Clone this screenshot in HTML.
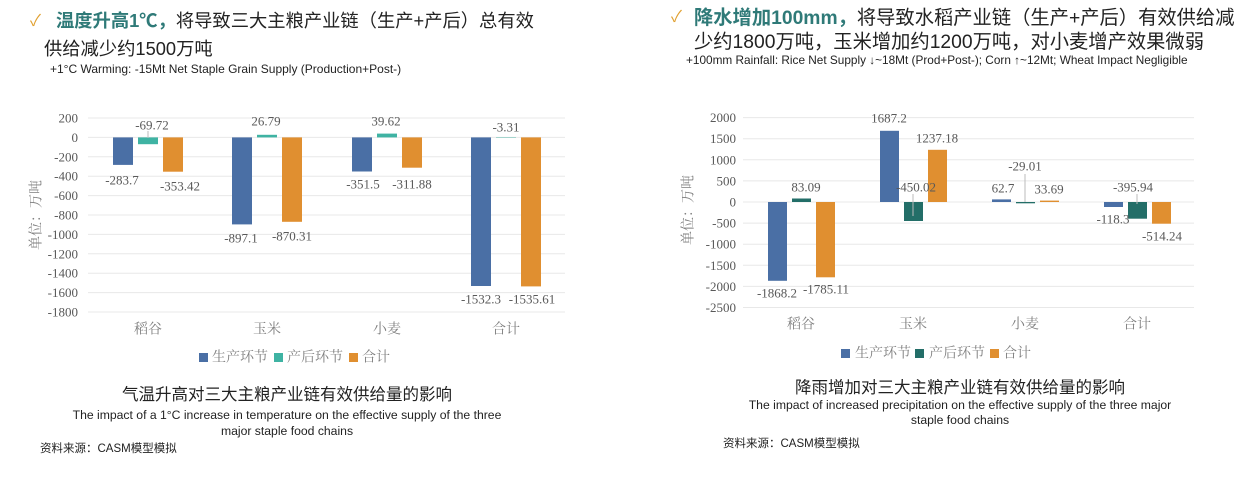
<!DOCTYPE html>
<html><head><meta charset="utf-8"><style>
body{margin:0;background:#fff;width:1250px;height:479px;overflow:hidden}
svg{display:block}
.h{font-family:"Liberation Sans","Noto Sans CJK SC",sans-serif;fill:#222}
.t{font-family:"Liberation Serif","Noto Serif CJK SC",serif;fill:#595959;font-size:13px}
.c{font-family:"Liberation Serif","Noto Serif CJK SC",serif;fill:#7f7f7f;font-size:14px}
.g{stroke:#e8e8e8;stroke-width:1}
</style></head><body>
<svg width="1250" height="479" viewBox="0 0 1250 479">
<!-- LEFT HEADER -->
<text x="30" y="26" font-size="16" class="h" style="fill:#e0a030">✓</text>
<text x="56" y="27" font-size="18.3" class="h"><tspan style="fill:#2f7a78;font-weight:bold">温度升高1℃，</tspan>将导致三大主粮产业链（生产+产后）总有效</text>
<text x="44" y="55" font-size="18.3" class="h">供给减少约1500万吨</text>
<text x="50" y="73" font-size="12" class="h">+1°C Warming: -15Mt Net Staple Grain Supply (Production+Post-)</text>
<!-- RIGHT HEADER -->
<text x="671" y="22" font-size="16" class="h" style="fill:#e0a030">✓</text>
<text x="694" y="24" font-size="19.3" class="h"><tspan style="fill:#2f7a78;font-weight:bold">降水增加100mm，</tspan>将导致水稻产业链（生产+产后）有效供给减</text>
<text x="694" y="48" font-size="19.3" class="h">少约1800万吨，玉米增加约1200万吨，对小麦增产效果微弱</text>
<text x="686" y="64" font-size="11.8" class="h">+100mm Rainfall: Rice Net Supply ↓~18Mt (Prod+Post-); Corn ↑~12Mt; Wheat Impact Negligible</text>

<g>
<line class="g" x1="88" x2="565" y1="118" y2="118"/><line class="g" x1="88" x2="565" y1="137.4" y2="137.4"/>
<line class="g" x1="88" x2="565" y1="156.8" y2="156.8"/><line class="g" x1="88" x2="565" y1="176.2" y2="176.2"/>
<line class="g" x1="88" x2="565" y1="195.6" y2="195.6"/><line class="g" x1="88" x2="565" y1="215" y2="215"/>
<line class="g" x1="88" x2="565" y1="234.4" y2="234.4"/><line class="g" x1="88" x2="565" y1="253.8" y2="253.8"/>
<line class="g" x1="88" x2="565" y1="273.2" y2="273.2"/><line class="g" x1="88" x2="565" y1="292.6" y2="292.6"/>
<line class="g" x1="88" x2="565" y1="312" y2="312"/>
</g>
<g class="t" text-anchor="end" dominant-baseline="central">
<text x="78" y="118">200</text><text x="78" y="137.4">0</text><text x="78" y="156.8">-200</text><text x="78" y="176.2">-400</text>
<text x="78" y="195.6">-600</text><text x="78" y="215">-800</text><text x="78" y="234.4">-1000</text><text x="78" y="253.8">-1200</text>
<text x="78" y="273.2">-1400</text><text x="78" y="292.6">-1600</text><text x="78" y="312">-1800</text>
</g>
<text class="c" transform="translate(37,215) rotate(-90)" text-anchor="middle" dominant-baseline="central">单位：万吨</text>
<g>
<rect x="113" y="137.4" width="20" height="27.5" fill="#4a6fa5"/>
<rect x="138" y="137.4" width="20" height="6.8" fill="#3fb3a3"/>
<rect x="163" y="137.4" width="20" height="34.3" fill="#e08f30"/>
<rect x="232" y="137.4" width="20" height="87" fill="#4a6fa5"/>
<rect x="257" y="134.8" width="20" height="2.6" fill="#3fb3a3"/>
<rect x="282" y="137.4" width="20" height="84.4" fill="#e08f30"/>
<rect x="352" y="137.4" width="20" height="34.1" fill="#4a6fa5"/>
<rect x="377" y="133.6" width="20" height="3.8" fill="#3fb3a3"/>
<rect x="402" y="137.4" width="20" height="30.3" fill="#e08f30"/>
<rect x="471" y="137.4" width="20" height="148.6" fill="#4a6fa5"/>
<rect x="496" y="137.4" width="20" height="0.4" fill="#3fb3a3"/>
<rect x="521" y="137.4" width="20" height="149" fill="#e08f30"/>
</g>
<line x1="148" y1="131" x2="148" y2="138" stroke="#bbb"/>
<g class="t" text-anchor="middle" dominant-baseline="central">
<text x="122" y="180">-283.7</text><text x="152" y="125">-69.72</text><text x="180" y="186">-353.42</text>
<text x="266" y="121">26.79</text><text x="241" y="238">-897.1</text><text x="292" y="236">-870.31</text>
<text x="386" y="121">39.62</text><text x="363" y="184">-351.5</text><text x="412" y="184">-311.88</text>
<text x="506" y="127">-3.31</text><text x="481" y="299">-1532.3</text><text x="532" y="299">-1535.61</text>
</g>
<g class="c" text-anchor="middle" dominant-baseline="central">
<text x="148" y="330">稻谷</text><text x="267" y="330">玉米</text><text x="387" y="330">小麦</text><text x="506" y="330">合计</text>
</g>
<g class="c" dominant-baseline="central">
<rect x="199" y="353" width="9" height="9" fill="#4a6fa5"/><text x="212" y="358">生产环节</text>
<rect x="274" y="353" width="9" height="9" fill="#3fb3a3"/><text x="287" y="358">产后环节</text>
<rect x="349" y="353" width="9" height="9" fill="#e08f30"/><text x="362" y="358">合计</text>
</g>
<text x="287" y="400" text-anchor="middle" font-size="16.5" class="h">气温升高对三大主粮产业链有效供给量的影响</text>
<text x="287" y="419" text-anchor="middle" font-size="12.2" class="h">The impact of a 1°C increase in temperature on the effective supply of the three</text>
<text x="287" y="435" text-anchor="middle" font-size="12.2" class="h">major staple food chains</text>
<text x="40" y="452" font-size="11.5" class="h">资料来源：CASM模型模拟</text>

<g>
<line class="g" x1="743" x2="1194" y1="117.6" y2="117.6"/><line class="g" x1="743" x2="1194" y1="138.7" y2="138.7"/>
<line class="g" x1="743" x2="1194" y1="159.8" y2="159.8"/><line class="g" x1="743" x2="1194" y1="180.9" y2="180.9"/>
<line class="g" x1="743" x2="1194" y1="202" y2="202"/><line class="g" x1="743" x2="1194" y1="223.1" y2="223.1"/>
<line class="g" x1="743" x2="1194" y1="244.2" y2="244.2"/><line class="g" x1="743" x2="1194" y1="265.3" y2="265.3"/>
<line class="g" x1="743" x2="1194" y1="286.4" y2="286.4"/><line class="g" x1="743" x2="1194" y1="307.5" y2="307.5"/>
</g>
<g class="t" text-anchor="end" dominant-baseline="central">
<text x="736" y="117.6">2000</text><text x="736" y="138.7">1500</text><text x="736" y="159.8">1000</text><text x="736" y="180.9">500</text>
<text x="736" y="202">0</text><text x="736" y="223.1">-500</text><text x="736" y="244.2">-1000</text><text x="736" y="265.3">-1500</text>
<text x="736" y="286.4">-2000</text><text x="736" y="307.5">-2500</text>
</g>
<text class="c" transform="translate(689,210) rotate(-90)" text-anchor="middle" dominant-baseline="central">单位：万吨</text>
<g>
<rect x="768" y="202" width="19" height="78.8" fill="#4a6fa5"/>
<rect x="792" y="198.5" width="19" height="3.5" fill="#236e68"/>
<rect x="816" y="202" width="19" height="75.3" fill="#e08f30"/>
<rect x="880" y="130.8" width="19" height="71.2" fill="#4a6fa5"/>
<rect x="904" y="202" width="19" height="19" fill="#236e68"/>
<rect x="928" y="149.8" width="19" height="52.2" fill="#e08f30"/>
<rect x="992" y="199.4" width="19" height="2.6" fill="#4a6fa5"/>
<rect x="1016" y="202" width="19" height="1.3" fill="#236e68"/>
<rect x="1040" y="200.6" width="19" height="1.4" fill="#e08f30"/>
<rect x="1104" y="202" width="19" height="5" fill="#4a6fa5"/>
<rect x="1128" y="202" width="19" height="16.7" fill="#236e68"/>
<rect x="1152" y="202" width="19" height="21.7" fill="#e08f30"/>
</g>
<line x1="913" y1="194" x2="913" y2="216" stroke="#bbb"/>
<line x1="1025" y1="174" x2="1025" y2="202" stroke="#bbb"/>
<line x1="1137" y1="194" x2="1137" y2="204" stroke="#bbb"/>
<g class="t" text-anchor="middle" dominant-baseline="central">
<text x="806" y="187">83.09</text><text x="889" y="118">1687.2</text><text x="937" y="138">1237.18</text>
<text x="916" y="187">-450.02</text><text x="1025" y="166">-29.01</text><text x="1003" y="188">62.7</text>
<text x="1049" y="189">33.69</text><text x="1133" y="187">-395.94</text><text x="1113" y="219">-118.3</text>
<text x="1162" y="236">-514.24</text><text x="777" y="293">-1868.2</text><text x="826" y="289">-1785.11</text>
</g>
<g class="c" text-anchor="middle" dominant-baseline="central">
<text x="801" y="325">稻谷</text><text x="913" y="325">玉米</text><text x="1025" y="325">小麦</text><text x="1137" y="325">合计</text>
</g>
<g class="c" dominant-baseline="central">
<rect x="841" y="349" width="9" height="9" fill="#4a6fa5"/><text x="855" y="354">生产环节</text>
<rect x="915" y="349" width="9" height="9" fill="#236e68"/><text x="929" y="354">产后环节</text>
<rect x="990" y="349" width="9" height="9" fill="#e08f30"/><text x="1003" y="354">合计</text>
</g>
<text x="960" y="393" text-anchor="middle" font-size="16.5" class="h">降雨增加对三大主粮产业链有效供给量的影响</text>
<text x="960" y="409" text-anchor="middle" font-size="12.2" class="h">The impact of increased precipitation on the effective supply of the three major</text>
<text x="960" y="424" text-anchor="middle" font-size="12.2" class="h">staple food chains</text>
<text x="723" y="447" font-size="11.5" class="h">资料来源：CASM模型模拟</text>
</svg>
</body></html>
